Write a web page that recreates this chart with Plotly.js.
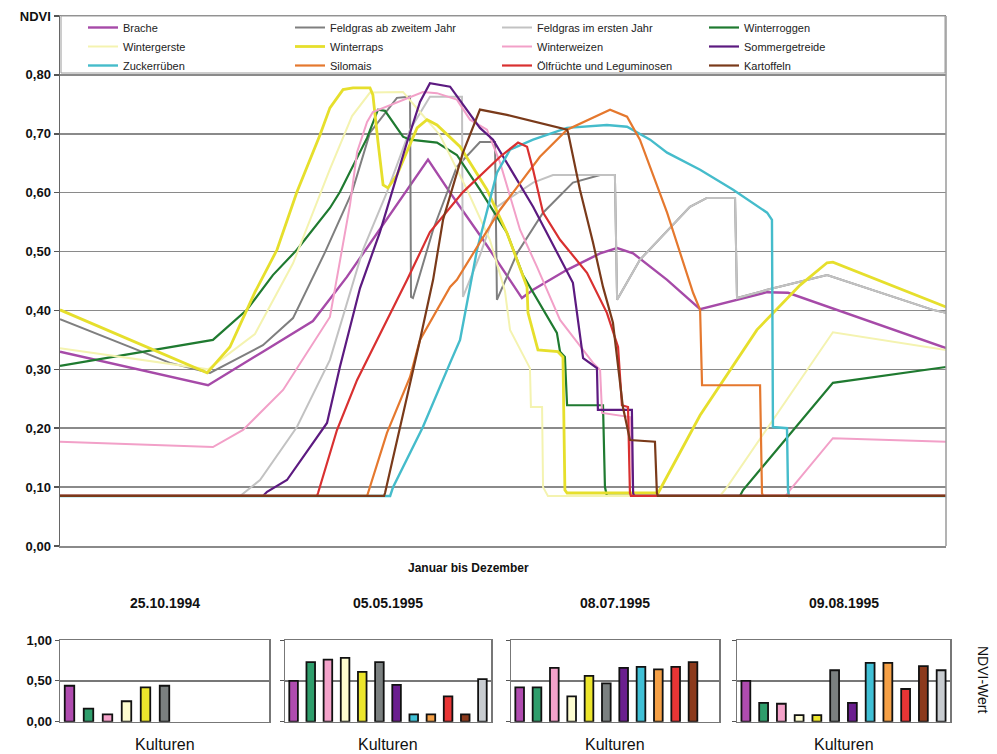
<!DOCTYPE html>
<html><head><meta charset="utf-8">
<script src="https://cdn.plot.ly/plotly-3.0.1.min.js"></script>
<style>html,body{margin:0;padding:0;background:#fff}#chart{width:997px;height:754px}</style>
</head><body><div id="chart"></div>
<script>
// ---------------- DATA: NDVI-Verlauf (Tag im Jahr, NDVI) ----------------
const serienNamen = ["Brache","Feldgras ab zweitem Jahr","Feldgras im ersten Jahr","Winterroggen",
  "Wintergerste","Winterraps","Winterweizen","Sommergetreide",
  "Zuckerrüben","Silomais","Ölfrüchte und Leguminosen","Kartoffeln"];

const bracheTag  = [0,61.0,83.6,104.2,118.2,151.6,160.7,174.3,190.3,194.9,208.9,222.5,229.5,236.1,250.1,263.7,291.3,299.9,365];
const bracheNDVI = [0.330,0.273,0.330,0.382,0.457,0.656,0.600,0.520,0.421,0.435,0.469,0.497,0.506,0.497,0.452,0.402,0.431,0.430,0.336];

const feldgras2Tag  = [0,45.3,61.8,83.6,96.0,109.2,120.3,127.7,138.8,144.2,144.6,145.4,153.7,163.5,173.0,178.0,179.2,180.0,188.3,199.0,211.3,222.5,228.6,229.5,238.9,259.5,266.5,278.1,278.9,291.3,316.0,359.6,365];
const feldgras2NDVI = [0.385,0.311,0.294,0.341,0.387,0.499,0.601,0.702,0.761,0.763,0.423,0.421,0.537,0.644,0.686,0.686,0.686,0.418,0.497,0.566,0.617,0.630,0.630,0.418,0.486,0.576,0.591,0.591,0.421,0.435,0.460,0.401,0.396];

const feldgras1Tag  = [0,74.2,82.4,97.6,111.2,124.8,134.7,144.2,152.4,165.6,166.0,173.0,180.0,194.9,203.1,228.6,229.5,238.9,259.5,266.5,278.1,278.9,291.3,316.0,359.6,365];
const feldgras1NDVI = [0.085,0.085,0.112,0.202,0.316,0.503,0.601,0.707,0.763,0.763,0.423,0.494,0.576,0.617,0.630,0.630,0.418,0.486,0.576,0.591,0.591,0.421,0.435,0.460,0.401,0.396];

const roggenTag  = [0,63.0,77.0,87.7,97.6,111.2,115.3,126.5,131.0,133.9,141.3,144.2,155.3,163.5,173.0,184.1,190.7,194.9,204.7,206.0,208.0,208.9,223.7,224.5,225.3,280.1,281.4,318.4,365];
const roggenNDVI = [0.306,0.350,0.401,0.460,0.503,0.574,0.601,0.693,0.741,0.739,0.695,0.690,0.685,0.664,0.605,0.532,0.460,0.430,0.362,0.330,0.321,0.239,0.239,0.100,0.085,0.085,0.095,0.277,0.304];

const gersteTag  = [0,61.0,80.3,96.0,111.2,120.3,127.7,141.3,148.3,156.5,167.7,177.1,183.3,185.4,193.6,194.0,198.6,199.0,201.0,271.9,274.8,318.4,365];
const gersteNDVI = [0.336,0.300,0.360,0.480,0.640,0.730,0.770,0.771,0.737,0.698,0.605,0.520,0.433,0.367,0.302,0.236,0.236,0.100,0.085,0.085,0.100,0.363,0.333];

const rapsTag  = [0,60.6,70.0,77.0,80.3,89.4,97.6,107.1,111.2,116.6,120.7,127.7,128.9,131.0,133.1,135.1,138.8,147.1,151.2,155.3,164.8,175.9,184.1,192.4,192.8,196.9,205.1,207.2,208.0,208.9,246.4,263.7,287.1,304.9,316.0,318.4,365];
const rapsNDVI = [0.401,0.294,0.338,0.401,0.431,0.503,0.601,0.698,0.744,0.775,0.778,0.778,0.766,0.686,0.613,0.608,0.630,0.710,0.724,0.715,0.678,0.605,0.532,0.440,0.396,0.333,0.330,0.321,0.095,0.090,0.090,0.222,0.367,0.443,0.481,0.482,0.406];

const weizenTag  = [0,63.0,75.4,91.9,111.2,116.2,119.5,122.4,126.5,128.9,138.8,149.5,155.3,163.5,168.9,175.9,181.3,189.5,196.5,200.6,206.0,219.6,222.5,223.3,234.8,236.1,236.5,299.0,300.7,318.4,365];
const weizenNDVI = [0.177,0.168,0.197,0.265,0.389,0.503,0.580,0.669,0.720,0.737,0.754,0.771,0.769,0.758,0.724,0.707,0.651,0.537,0.474,0.435,0.384,0.311,0.299,0.226,0.219,0.090,0.085,0.085,0.095,0.183,0.177];

const sommerTag  = [0,83.6,85.3,93.5,110.0,115.3,123.6,131.8,143.0,148.3,152.4,160.7,173.0,178.4,194.9,208.9,211.3,215.5,221.2,221.6,235.6,236.1,236.5,365];
const sommerNDVI = [0.085,0.085,0.092,0.112,0.209,0.304,0.438,0.533,0.686,0.754,0.786,0.780,0.710,0.690,0.576,0.464,0.447,0.319,0.302,0.231,0.231,0.090,0.085,0.085];

const zuckerTag  = [0,136.0,137.2,149.5,160.7,164.8,171.8,180.0,185.4,194.9,208.9,225.3,233.6,243.1,250.1,263.7,277.3,291.3,293.3,293.7,299.5,299.9,300.3,365];
const zuckerNDVI = [0.085,0.085,0.100,0.202,0.311,0.350,0.503,0.634,0.673,0.690,0.710,0.715,0.712,0.690,0.668,0.639,0.605,0.566,0.554,0.202,0.200,0.095,0.085,0.085];

const siloTag  = [0,126.5,126.9,134.7,144.2,148.3,160.7,163.5,181.3,197.7,208.9,226.6,233.6,238.9,250.1,260.8,263.7,264.5,288.4,289.2,289.6,365];
const siloNDVI = [0.085,0.085,0.090,0.192,0.287,0.350,0.440,0.452,0.571,0.661,0.707,0.741,0.729,0.690,0.566,0.430,0.401,0.273,0.273,0.090,0.085,0.085];

const oelTag  = [0,105.9,106.3,114.1,122.4,130.6,143.0,152.4,166.0,181.3,188.7,192.4,194.9,199.0,206.0,217.1,225.3,229.9,231.5,234.0,234.8,235.2,365];
const oelNDVI = [0.085,0.085,0.090,0.197,0.282,0.350,0.452,0.533,0.601,0.661,0.685,0.678,0.639,0.566,0.520,0.464,0.396,0.338,0.239,0.236,0.090,0.085,0.085];

const kartTag  = [0,133.5,133.9,145.4,148.3,153.7,157.8,166.0,173.0,184.1,208.9,209.3,214.2,219.6,223.7,227.8,231.9,234.8,245.1,245.9,246.3,365];
const kartNDVI = [0.085,0.085,0.090,0.294,0.350,0.452,0.554,0.668,0.741,0.732,0.707,0.702,0.605,0.515,0.440,0.379,0.236,0.180,0.177,0.090,0.085,0.085];

const ndviTicks = [0,0.1,0.2,0.3,0.4,0.5,0.6,0.7,0.8];

// ---------------- DATA: Balken je Aufnahmedatum ----------------
const aufnahmeDaten = ["25.10.1994","05.05.1995","08.07.1995","09.08.1995"];
const kulturen = ["Brache","Winterroggen","Winterweizen","Wintergerste","Winterraps","Feldgras ab zweitem Jahr",
  "Sommergetreide","Zuckerrüben","Silomais","Ölfrüchte und Leguminosen","Kartoffeln","Feldgras im ersten Jahr"];
const ndvi19941025 = [0.44,0.16,0.09,0.25,0.42,0.44,null,null,null,null,null,null];
const ndvi19950505 = [0.50,0.73,0.76,0.78,0.61,0.73,0.45,0.09,0.09,0.31,0.09,0.52];
const ndvi19950708 = [0.42,0.42,0.66,0.31,0.56,0.47,0.66,0.67,0.64,0.67,0.73,null];
const ndvi19950809 = [0.50,0.23,0.22,0.08,0.08,0.63,0.23,0.72,0.72,0.40,0.68,0.63];
const balkenTicks = [0,0.5,1];

// ---------------- STYLE ----------------
const W = 997, H = 754;
const fx = p => p / W, fy = p => 1 - p / H;
const FONT = "Liberation Sans, Arial, sans-serif";
const fmt = v => v.toFixed(2).replace('.', ',');

const serienTage = [bracheTag,feldgras2Tag,feldgras1Tag,roggenTag,gersteTag,rapsTag,weizenTag,sommerTag,zuckerTag,siloTag,oelTag,kartTag];
const serienNDVI = [bracheNDVI,feldgras2NDVI,feldgras1NDVI,roggenNDVI,gersteNDVI,rapsNDVI,weizenNDVI,sommerNDVI,zuckerNDVI,siloNDVI,oelNDVI,kartNDVI];
const linienFarben = ["#a64aa8","#7f7f7f","#c2c2c2","#1f7a30","#f4f3b0","#e6df2c","#f2a0c8","#5c1a80","#45bccb","#e5782e","#d93030","#7a3a1a"];
const linienBreite = [2.4,2,2,2.2,2,2.8,2,2.2,2.4,2.2,2.2,2.2];
const balkenFarben = ["#b04cb0","#2f9e6c","#f4a2ca","#fdfcd0","#ece52c","#7b8080","#6b1f8f","#40c0d6","#f5a046","#e83535","#8c3a1c","#c8ccd0"];

const traces = serienNamen.map((n, i) => ({
  type: 'scatter', mode: 'lines', name: n,
  x: serienTage[i], y: serienNDVI[i],
  line: {color: linienFarben[i], width: linienBreite[i]},
  xaxis: 'x', yaxis: 'y', hoverinfo: 'skip'
}));

const balkenDaten = [ndvi19941025, ndvi19950505, ndvi19950708, ndvi19950809];
balkenDaten.forEach((vals, k) => {
  traces.push({
    type: 'bar', x: kulturen, y: vals, showlegend: false,
    marker: {color: balkenFarben, line: {color: '#111', width: 1.8}},
    xaxis: 'x' + (k + 2), yaxis: 'y' + (k + 2), hoverinfo: 'skip'
  });
});

const barDomX = [[60,269],[285,491],[511,719],[737,950]];
const barDomY = [fy(721.7), fy(640)];

const layout = {
  width: W, height: H, margin: {l:0, r:0, t:0, b:0},
  paper_bgcolor: '#fff', plot_bgcolor: 'rgba(0,0,0,0)',
  font: {family: FONT, color: '#111'},
  showlegend: true, bargap: 0.5,
  legend: {orientation: 'h', x: fx(83), y: fy(13), xanchor: 'left', yanchor: 'top',
    bgcolor: 'rgba(0,0,0,0)', borderwidth: 0, font: {family: FONT, size: 11, color: '#222'},
    entrywidth: 162, entrywidthmode: 'pixels', itemwidth: 30, traceorder: 'normal'},
  xaxis: {domain: [fx(60), fx(946)], range: [0, 365], showgrid: false, zeroline: false,
    showticklabels: false, ticks: '', showline: true, mirror: true, linecolor: '#8a8a8a', linewidth: 1.5},
  yaxis: {domain: [fy(546), fy(16)], range: [0, 0.9], zeroline: false,
    tickvals: ndviTicks.concat([0.9]), ticktext: ndviTicks.map(fmt).concat(['NDVI']),
    tickfont: {family: FONT, size: 13, weight: 'bold', color: '#111'},
    ticks: 'outside', ticklen: 5, tickcolor: '#555', tickwidth: 1.5,
    showgrid: true, gridcolor: '#8a8a8a', gridwidth: 1.5,
    showline: true, linecolor: '#666', linewidth: 1.5},
  shapes: [
    {type:'line', xref:'paper', yref:'paper', x0: fx(946), x1: fx(946), y0: fy(546), y1: fy(16), line:{color:'#9a9a9a', width:1.5}},
    {type:'rect', xref:'paper', yref:'paper', x0: fx(61), x1: fx(945), y0: fy(73), y1: fy(16), line:{color:'#9a9a9a', width:1}, fillcolor:'rgba(0,0,0,0)'}
  ],
  annotations: [
    {text: 'Januar bis Dezember', xref:'paper', yref:'paper', x: fx(468), y: fy(568), showarrow:false,
     xanchor:'center', yanchor:'middle', font:{family: FONT, size: 12, weight: 'bold'}},
    {text: 'NDVI-Wert', xref:'paper', yref:'paper', x: fx(983), y: fy(680), showarrow:false, textangle: 90,
     xanchor:'center', yanchor:'middle', font:{family: FONT, size: 14}}
  ]
};

barDomX.forEach((d, k) => {
  const n = k + 2;
  layout['xaxis' + n] = {domain: [fx(d[0]), fx(d[1])], anchor: 'y' + n, type: 'category',
    range: k === 0 ? [-0.5, 10.5] : [-0.5, 11.5], showticklabels: false, ticks: '',
    showgrid: false, showline: true, mirror: true, linecolor: '#777', linewidth: 1.5};
  layout['yaxis' + n] = {domain: barDomY, anchor: 'x' + n, range: [0, 1], zeroline: false,
    tickvals: balkenTicks, ticktext: balkenTicks.map(fmt), showticklabels: k === 0,
    tickfont: {family: FONT, size: 13, weight: 'bold', color: '#111'},
    ticks: 'outside', ticklen: 4, tickcolor: '#555',
    showgrid: true, gridcolor: '#777', gridwidth: 1.5,
    showline: true, mirror: true, linecolor: '#777', linewidth: 1.5};
  const cx = (d[0] + d[1]) / 2;
  layout.annotations.push({text: aufnahmeDaten[k], xref:'paper', yref:'paper', x: fx(cx), y: fy(603),
    xanchor:'center', yanchor:'middle', showarrow:false, font:{family: FONT, size: 14, weight: 'bold'}});
  layout.annotations.push({text: 'Kulturen', xref:'paper', yref:'paper', x: fx(cx), y: fy(744),
    xanchor:'center', yanchor:'middle', showarrow:false, font:{family: FONT, size: 16}});
});

Plotly.newPlot('chart', traces, layout, {staticPlot: true, displayModeBar: false});
</script></body></html>
